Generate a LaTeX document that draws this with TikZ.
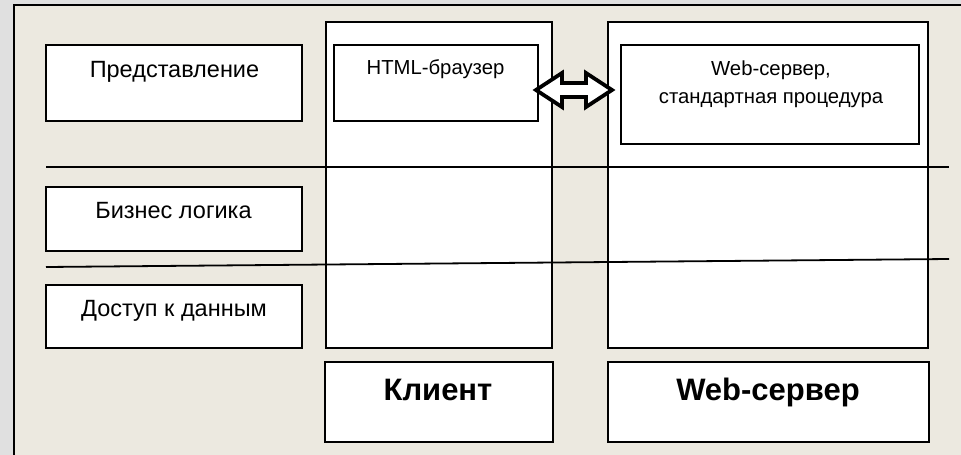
\documentclass[tikz,border=0pt]{standalone}
\usepackage{fontspec}
\setmainfont{Liberation Sans}
\definecolor{pagebg}{RGB}{224,224,224}
\definecolor{beige}{RGB}{236,233,224}
\tikzset{
  px/.style={x=1pt,y=-1pt},
  whitebox/.style={draw=black,line width=1.6pt,fill=white},
  sep/.style={draw=black,line width=1.8pt},
  lbl/.style={font=\fontsize{23.5}{26}\selectfont,anchor=base,inner sep=0pt},
  smalllbl/.style={font=\fontsize{20.3}{28}\selectfont,anchor=base,inner sep=0pt},
  biglbl/.style={font=\fontsize{31}{34}\selectfont\bfseries,anchor=base,inner sep=0pt},
}
\begin{document}
\begin{tikzpicture}[px]
\useasboundingbox (0,0) rectangle (961,455);
\fill[pagebg] (0,0) rectangle (961,455);
\fill[beige] (14,5) rectangle (961,455);
\draw[line width=2.6pt] (14,455) -- (14,5) -- (961,5);
% left layer boxes
\path[whitebox] (46,45) rectangle (302,121);
\path[whitebox] (46,187) rectangle (302,251);
\path[whitebox] (46,285) rectangle (302,348);
\node[lbl] (pres) at (174.5,77) {Представление};
\node[lbl] (biz) at (173.5,218) {Бизнес логика};
\node[lbl] (data) at (174,316) {Доступ к данным};
% columns
\path[whitebox] (326,22) rectangle (552,348);
\path[whitebox] (608,22) rectangle (928,348);
\path[whitebox] (334,45) rectangle (538,121);
\path[whitebox] (621,45) rectangle (919,144);
\node[smalllbl] (html) at (435.5,74) {HTML-браузер};
\node[smalllbl] (web1) at (771,75) {Web-сервер,};
\node[smalllbl] (web2) at (771,103) {стандартная процедура};
% bottom labels
\path[whitebox] (325,362) rectangle (553,442);
\path[whitebox] (608,362) rectangle (929,442);
\node[biglbl] (client) at (438,400) {Клиент};
\node[biglbl] (server) at (768,400) {Web-сервер};
% separators
\coordinate (l1a) at (46,167);
\coordinate (l1b) at (949,167);
\coordinate (l2a) at (46,267);
\coordinate (l2b) at (949,259);
\draw[sep] (l1a) -- (l1b);
\draw[sep] (l2a) -- (l2b);
% double arrow
\draw[line width=3.8pt,fill=white,line join=miter]
  (536,90) -- (562,73) -- (562,83) -- (586,83) -- (586,73) -- (612,90)
  -- (586,107) -- (586,97) -- (562,97) -- (562,107) -- cycle;
\end{tikzpicture}
\end{document}
